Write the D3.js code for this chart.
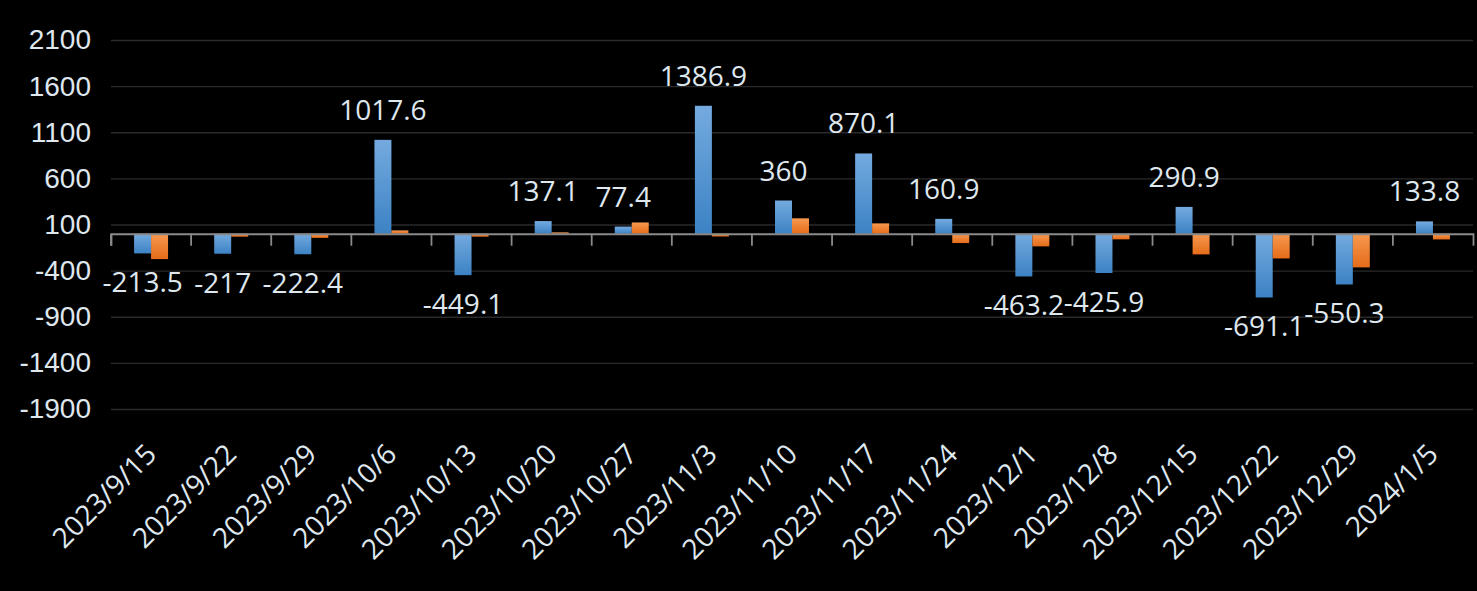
<!DOCTYPE html>
<html>
<head>
<meta charset="utf-8">
<script src="https://cdn.jsdelivr.net/npm/d3@7"></script>
<style>
  html, body { margin: 0; padding: 0; background: #000; }
  svg { display: block; font-family: "Open Sans", "Noto Sans", sans-serif; }
</style>
</head>
<body>
<svg></svg>
<script>
// chart data
var categories = ['2023/9/15', '2023/9/22', '2023/9/29', '2023/10/6', '2023/10/13', '2023/10/20',
    '2023/10/27', '2023/11/3', '2023/11/10', '2023/11/17', '2023/11/24', '2023/12/1',
    '2023/12/8', '2023/12/15', '2023/12/22', '2023/12/29', '2024/1/5'];
var blueValues = [-213.5, -217, -222.4, 1017.6, -449.1, 137.1, 77.4, 1386.9, 360, 870.1,
    160.9, -463.2, -425.9, 290.9, -691.1, -550.3, 133.8];
var orangeValues = [-275, -32, -45, 36, -32, 15, 122, -30, 167, 112, -101, -137, -61, -224,
    -268, -365, -62];
var yTicks = [2100, 1600, 1100, 600, 100, -400, -900, -1400, -1900];

var svg, width, height, margin;

document.addEventListener('DOMContentLoaded', function () {
    margin = {top: 40, right: 4, bottom: 182, left: 111};
    width = 1477 - margin.left - margin.right;
    height = 591 - margin.top - margin.bottom;

    var root = d3.select('svg')
        .attr('width', 1477)
        .attr('height', 591);

    root.append('rect')
        .attr('width', 1477)
        .attr('height', 591)
        .attr('fill', '#000');

    var defs = root.append('defs');
    function gradient(id, top, bottom) {
        var g = defs.append('linearGradient')
            .attr('id', id)
            .attr('x1', 0).attr('y1', 0)
            .attr('x2', 0).attr('y2', 1);
        g.append('stop').attr('offset', '0%').attr('stop-color', top);
        g.append('stop').attr('offset', '100%').attr('stop-color', bottom);
    }
    gradient('blueGrad', '#74aadf', '#3c82c4');
    gradient('orangeGrad', '#f7994f', '#e56c1a');

    svg = root.append('g')
        .attr('transform', `translate(${margin.left},${margin.top})`);

    var data = categories.map(function (c, i) {
        return {cat: c, blue: blueValues[i], orange: orangeValues[i]};
    });

    var x0 = d3.scaleBand()
        .domain(categories)
        .range([0, width])
        .padding(0);

    var barW = x0.bandwidth() * 0.212;
    var x1 = d3.scaleBand()
        .domain(['blue', 'orange'])
        .range([x0.bandwidth() / 2 - barW, x0.bandwidth() / 2 + barW]);

    var y = d3.scaleLinear()
        .domain([-1900, 2100])
        .range([height, 0]);

    // gridlines + y labels
    var yAxis = svg.append('g')
        .attr('class', 'y-axis')
        .call(d3.axisLeft(y).tickValues(yTicks).tickFormat(d => String(d))
            .tickSizeInner(-width).tickSizeOuter(0).tickPadding(20));
    yAxis.select('.domain').remove();
    yAxis.selectAll('.tick line')
        .attr('stroke', '#2a2a2a')
        .attr('stroke-width', 1.3);
    yAxis.selectAll('.tick text')
        .attr('fill', '#dfe7ef')
        .style('font-size', '28px');

    // bars
    var groups = svg.selectAll('.cat')
        .data(data)
        .enter()
        .append('g')
        .attr('class', 'cat')
        .attr('transform', d => `translate(${x0(d.cat)},0)`);

    groups.append('rect')
        .attr('x', x1('blue'))
        .attr('width', x1.bandwidth())
        .attr('y', d => y(Math.max(0, d.blue)))
        .attr('height', d => Math.abs(y(d.blue) - y(0)))
        .attr('fill', 'url(#blueGrad)');

    groups.append('rect')
        .attr('x', x1('orange'))
        .attr('width', x1.bandwidth())
        .attr('y', d => y(Math.max(0, d.orange)))
        .attr('height', d => Math.abs(y(d.orange) - y(0)))
        .attr('fill', 'url(#orangeGrad)');

    // x axis line at zero with boundary ticks
    var xAxis = svg.append('g')
        .attr('class', 'x-axis')
        .attr('transform', `translate(0,${y(0)})`)
        .call(d3.axisBottom(x0).tickSizeInner(12).tickSizeOuter(12).tickFormat(''));
    xAxis.select('.domain')
        .attr('stroke', '#8a8a8a')
        .attr('stroke-width', 1.8);
    xAxis.selectAll('.tick line')
        .attr('x1', -x0.bandwidth() / 2)
        .attr('x2', -x0.bandwidth() / 2)
        .attr('stroke', '#8a8a8a')
        .attr('stroke-width', 1.8);

    // data labels for blue series
    groups.append('text')
        .attr('x', x1('blue') + x1.bandwidth() / 2)
        .attr('y', d => d.blue >= 0 ? y(d.blue) - 20 : y(d.blue) + 39)
        .attr('text-anchor', 'middle')
        .attr('fill', '#dfe7ef')
        .style('font-size', '28px')
        .text(d => String(d.blue));

    // category labels, rotated, under plot area
    svg.append('g')
        .attr('class', 'cat-labels')
        .selectAll('text')
        .data(categories)
        .enter()
        .append('text')
        .attr('transform', d => `translate(${x0(d) + x0.bandwidth() / 2 + 7},${height + 47}) rotate(-45)`)
        .attr('text-anchor', 'end')
        .attr('fill', '#dfe7ef')
        .style('font-size', '28px')
        .text(d => d);
});
</script>
</body>
</html>
